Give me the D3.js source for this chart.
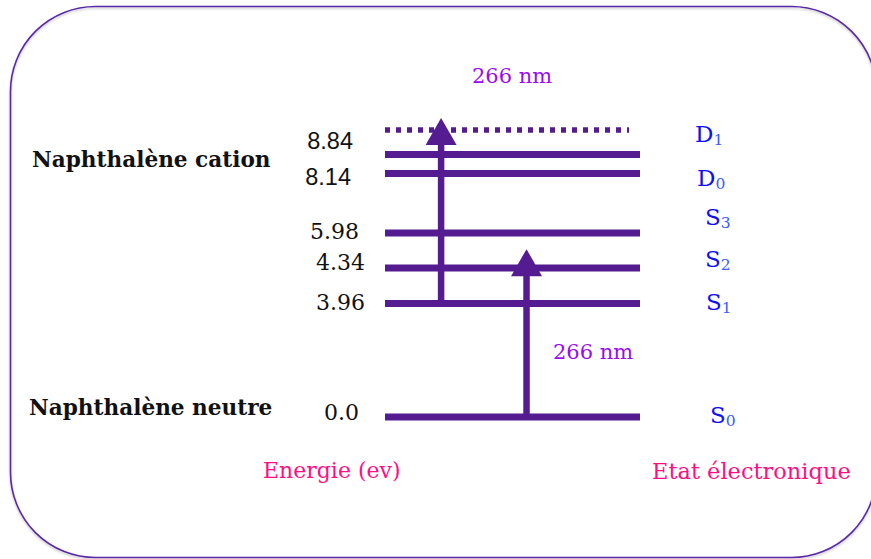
<!DOCTYPE html>
<html>
<head>
<meta charset="utf-8">
<script src="https://cdn.jsdelivr.net/npm/d3@7/dist/d3.min.js"></script>
<style>
  html, body { margin: 0; padding: 0; background: #fff; }
  svg { display: block; }
</style>
</head>
<body>
<div id="chart"></div>
<script>
// ---------------- data ----------------
const levelNames   = ["S0", "S1", "S2", "S3", "D0", "D1"];
const levelLetters = ["S", "S", "S", "S", "D", "D"];
const levelSubs    = ["0", "1", "2", "3", "0", "1"];
const levelEnergy  = [0.0, 3.96, 4.34, 5.98, 8.14, 8.84];           // eV
const energyLabels = ["0.0", "3.96", "4.34", "5.98", "8.14", "8.84"];
const photonEnergy = 4.66;                                           // 266 nm in eV
const virtualLevel = 2 * photonEnergy;                               // dotted level (two photons)
const transitions  = [                                               // [from eV, to eV]
  [0.0, photonEnergy],
  [3.96, virtualLevel]
];
const photonLabel  = "266 nm";
const groupLabels  = ["Naphthalène neutre", "Naphthalène cation"];
const axisLabels   = ["Energie (ev)", "Etat électronique"];

// ---------------- layout ----------------
const W = 871, H = 559;
const serif = "'DejaVu Serif', serif";
const sans  = "'Liberation Sans', Arial, sans-serif";
const lineColor = "#541c90";

// schematic (non-proportional) energy axis, piecewise linear
const y = d3.scaleLinear()
  .domain([0.0, 3.96, 4.34, 5.98, 8.14, 8.84, 9.32])
  .range([417, 303.5, 268, 233, 173.5, 154.5, 130]);
const x = d3.scaleLinear().domain([0, 1]).range([385, 640]);

// per-level label adjustments (crowded region)
const numNudge   = { S0: [-3, -3], S1: [3, 0.5], S2: [3, -4], S3: [-3, 0], D0: [-11, 5.5], D1: [-9, -11.5] };
const stateNudge = { S0: [710, 6], S1: [706, 6.5], S2: [705, -1], S3: [705, -8], D0: [697, 12.5], D1: [695, -12.5] };

const svg = d3.select("#chart").append("svg")
  .attr("width", W).attr("height", H);

const defs = svg.append("defs");
const f = defs.append("filter").attr("id", "shadow")
  .attr("x", "-5%").attr("y", "-5%").attr("width", "110%").attr("height", "110%");
f.append("feDropShadow").attr("dx", 0).attr("dy", 1.5).attr("stdDeviation", 1.2)
  .attr("flood-color", "#000").attr("flood-opacity", 0.25);

// frame
svg.append("rect")
  .attr("x", 10.5).attr("y", 6.5).attr("width", 866).attr("height", 551)
  .attr("rx", 85).attr("ry", 85)
  .attr("fill", "none").attr("stroke", "#5a2ba6").attr("stroke-width", 1.6)
  .attr("filter", "url(#shadow)");

// dotted virtual level
svg.append("line")
  .attr("x1", x(0)).attr("x2", x(0.957))
  .attr("y1", y(virtualLevel)).attr("y2", y(virtualLevel))
  .attr("stroke", lineColor).attr("stroke-width", 5.5)
  .attr("stroke-dasharray", "5,6");

// energy levels
svg.selectAll("line.level").data(levelEnergy).join("line")
  .attr("class", "level")
  .attr("x1", x(0)).attr("x2", x(1))
  .attr("y1", d => y(d)).attr("y2", d => y(d))
  .attr("stroke", lineColor).attr("stroke-width", 7);

// arrows
const arrowX = [0.555, 0.22];
const headW = 31, headH = 27, overshoot = 12, shaftW = 6.5;
transitions.forEach((t, i) => {
  const ax = x(arrowX[i]);
  const y0 = y(t[0]);
  const tip = y(t[1]) - overshoot;
  svg.append("line")
    .attr("x1", ax).attr("x2", ax)
    .attr("y1", y0).attr("y2", tip + headH - 1)
    .attr("stroke", lineColor).attr("stroke-width", shaftW);
  svg.append("path")
    .attr("d", d3.line()([[ax, tip], [ax + headW / 2, tip + headH], [ax - headW / 2, tip + headH]]) + "Z")
    .attr("fill", lineColor);
});

// energy value labels
svg.selectAll("text.num").data(levelNames).join("text")
  .attr("class", "num")
  .attr("x", d => 362 + numNudge[d][0])
  .attr("y", (d, i) => y(levelEnergy[i]) + 6 + numNudge[d][1])
  .attr("text-anchor", "end")
  .attr("font-family", (d, i) => levelEnergy[i] > 8 ? sans : serif)
  .attr("font-size", (d, i) => levelEnergy[i] > 8 ? 23.5 : 22)
  .attr("fill", "#111")
  .text((d, i) => energyLabels[i]);

// state labels
const st = svg.selectAll("text.state").data(levelNames).join("text")
  .attr("class", "state")
  .attr("x", d => stateNudge[d][0])
  .attr("y", (d, i) => y(levelEnergy[i]) + stateNudge[d][1])
  .attr("font-family", serif).attr("font-size", 23).attr("fill", "#1010f5");
st.append("tspan").text((d, i) => levelLetters[i]);
st.append("tspan").attr("dy", 3).attr("font-size", 15.5).attr("fill", "#3a5cff")
  .text((d, i) => levelSubs[i]);

// group labels
svg.append("text").attr("x", 29).attr("y", 415)
  .attr("font-family", serif).attr("font-weight", "bold").attr("font-size", 21.6).attr("fill", "#111")
  .text(groupLabels[0]);
svg.append("text").attr("x", 32).attr("y", 167)
  .attr("font-family", serif).attr("font-weight", "bold").attr("font-size", 21.6).attr("fill", "#111")
  .text(groupLabels[1]);

// photon labels
svg.append("text").attr("x", 472).attr("y", 83)
  .attr("font-family", serif).attr("font-size", 21).attr("fill", "#9a0cf5")
  .text(photonLabel);
svg.append("text").attr("x", 553).attr("y", 359)
  .attr("font-family", serif).attr("font-size", 21).attr("fill", "#9a0cf5")
  .text(photonLabel);

// axis titles
svg.append("text").attr("x", 263).attr("y", 478)
  .attr("font-family", serif).attr("font-size", 22).attr("fill", "#ff0f84")
  .text(axisLabels[0]);
svg.append("text").attr("x", 652).attr("y", 479)
  .attr("font-family", serif).attr("font-size", 22.5).attr("fill", "#ff0f84")
  .text(axisLabels[1]);
</script>
</body>
</html>
